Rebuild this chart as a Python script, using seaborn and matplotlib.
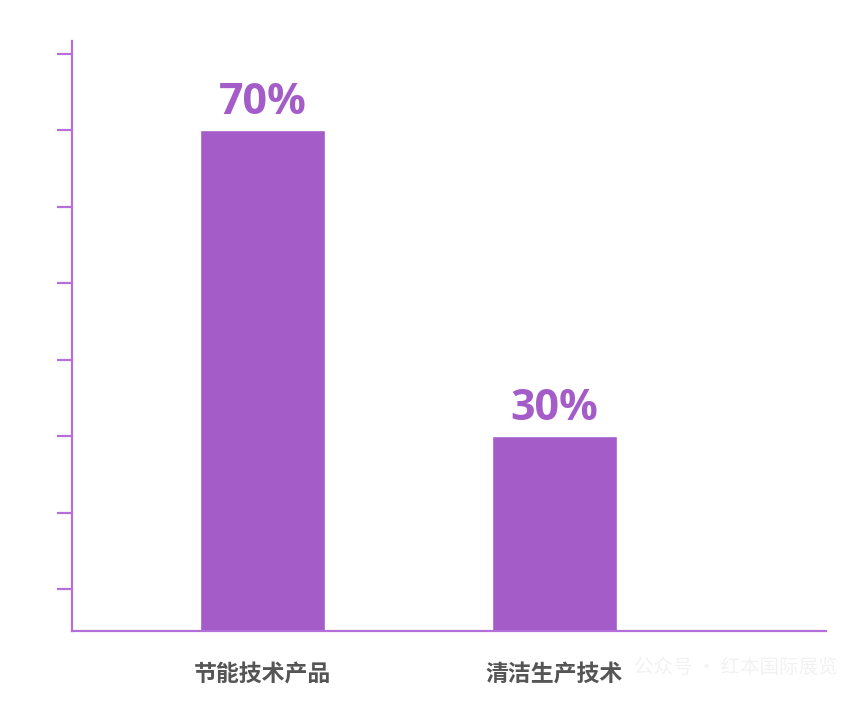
import pandas as pd
import matplotlib.pyplot as plt
import seaborn as sns

categories = ["节能技术产品", "清洁生产技术"]
values = [70, 30]
value_labels = ["70%", "30%"]

sns.set_style("white")
plt.rcParams["font.family"] = ["Noto Sans CJK SC", "DejaVu Sans"]

bar_color = "#A35CC8"
axis_color = "#B46FD9"

df = pd.DataFrame({"category": categories, "value": values})

fig = plt.figure(figsize=(8.6, 7.05), dpi=100)
ax = fig.add_axes([0.0837, 0.105, 0.8768, 0.8368])

sns.barplot(data=df, x="category", y="value", color=bar_color, saturation=1,
            width=0.428, ax=ax)

for i, (v, lab) in enumerate(zip(values, value_labels)):
    ax.text(i, v + 0.8, lab, ha="center", va="bottom", fontsize=31,
            fontweight="bold", color=bar_color, family=["Open Sans", "DejaVu Sans"])

ax.set_xlim(-0.652, 1.93)
ax.set_ylim(4.5, 81.7)
ax.set_yticks([10, 20, 30, 40, 50, 60, 70, 80])
ax.set_yticklabels([])
ax.set_xlabel("")
ax.set_ylabel("")

for side in ["top", "right"]:
    ax.spines[side].set_visible(False)
for side in ["left", "bottom"]:
    ax.spines[side].set_color(axis_color)
    ax.spines[side].set_linewidth(1.6)

ax.tick_params(axis="y", left=True, length=11, width=1.6, color=axis_color)
ax.tick_params(axis="x", bottom=False, pad=20, labelsize=16.5, labelcolor="#555555")
for t in ax.get_xticklabels():
    t.set_fontweight("bold")

# faint watermark
fig.text(0.737, 0.053, "公众号 · 红本国际展览", ha="left", va="center",
         fontsize=14, color="#F2F2F2")

plt.savefig("out.png", dpi=100)
